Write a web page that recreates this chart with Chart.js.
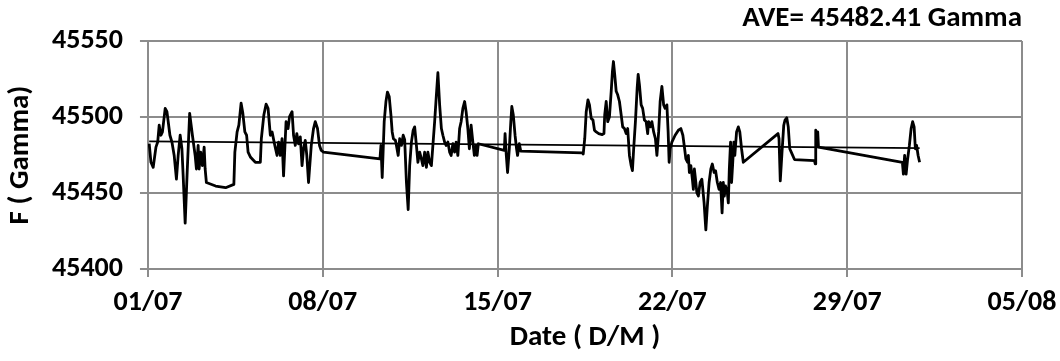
<!DOCTYPE html>
<html>
<head>
<meta charset="utf-8">
<script src="https://cdn.jsdelivr.net/npm/chart.js@4/dist/chart.umd.min.js"></script>
<style>
  html, body { margin: 0; padding: 0; background: #fff; }
  #wrap { width: 1060px; height: 361px; }
</style>
</head>
<body>
<div id="wrap"><canvas id="fieldChart" width="1060" height="361"></canvas></div>
<script>
// time in days since 01/07, total field F in gamma
const days = [
  0.05, 0.12, 0.21, 0.32, 0.39, 0.45, 0.52, 0.58, 0.69, 0.76, 0.88, 0.96,
  1.05, 1.14, 1.21, 1.29, 1.36, 1.41, 1.49, 1.57, 1.67, 1.78, 1.89, 1.94,
  2.01, 2.05, 2.11, 2.18, 2.25, 2.29, 2.34, 2.71, 3.11, 3.44, 3.48, 3.57,
  3.64, 3.73, 3.80, 3.88, 3.95, 4.01, 4.11, 4.30, 4.50, 4.54, 4.64, 4.73,
  4.81, 4.90, 4.97, 5.08, 5.17, 5.23, 5.30, 5.37, 5.43, 5.53, 5.61, 5.67,
  5.77, 5.83, 5.90, 5.96, 6.03, 6.10, 6.17, 6.23, 6.30, 6.36, 6.43, 6.54,
  6.63, 6.70, 6.79, 6.87, 6.94, 7.03, 9.29, 9.33, 9.38, 9.46, 9.53, 9.59,
  9.66, 9.73, 9.78, 9.83, 9.91, 9.95, 10.02, 10.08, 10.15, 10.22, 10.28,
  10.35, 10.42, 10.48, 10.55, 10.62, 10.68, 10.75, 10.81, 10.88, 10.95,
  11.01, 11.08, 11.15, 11.21, 11.28, 11.35, 11.41, 11.48, 11.55, 11.61,
  11.68, 11.75, 11.81, 11.88, 11.94, 12.01, 12.08, 12.14, 12.21, 12.28,
  12.34, 12.41, 12.48, 12.54, 12.61, 12.68, 12.74, 12.81, 12.87, 12.94,
  13.01, 13.07, 13.14, 13.18, 13.23, 14.27, 14.30, 14.35, 14.40, 14.47,
  14.53, 14.57, 14.63, 14.70, 14.76, 14.80, 14.87, 14.93, 17.39, 17.43,
  17.49, 17.55, 17.62, 17.68, 17.75, 17.82, 17.88, 17.95, 18.05, 18.19,
  18.26, 18.29, 18.35, 18.41, 18.48, 18.55, 18.60, 18.64, 18.69, 18.75,
  18.81, 18.88, 18.95, 19.01, 19.08, 19.15, 19.21, 19.28, 19.35, 19.40,
  19.45, 19.52, 19.59, 19.63, 19.68, 19.75, 19.81, 19.88, 19.95, 20.01,
  20.05, 20.12, 20.18, 20.25, 20.32, 20.38, 20.45, 20.51, 20.58, 20.65,
  20.71, 20.78, 20.83, 20.87, 20.91, 20.98, 21.11, 21.24, 21.34, 21.42,
  21.49, 21.54, 21.61, 21.64, 21.68, 21.74, 21.80, 21.84, 21.88, 21.94,
  21.98, 22.04, 22.11, 22.18, 22.22, 22.27, 22.34, 22.40, 22.47, 22.54,
  22.60, 22.67, 22.73, 22.80, 22.87, 22.93, 22.99, 23.04, 23.08, 23.13,
  23.20, 23.24, 23.28, 23.33, 23.37, 23.41, 23.46, 23.50, 23.57, 23.64,
  23.70, 23.77, 23.84, 25.23, 25.27, 25.32, 25.39, 25.46, 25.51, 25.58,
  25.64, 25.70, 25.76, 25.89, 26.69, 26.72, 26.74, 26.78, 26.82, 26.85,
  30.21, 30.25, 30.30, 30.36, 30.42, 30.49, 30.56, 30.62, 30.68, 30.73,
  30.78, 30.84, 30.90
];
const gammaValues = [
  45482.4, 45470.2, 45466.9, 45480.2, 45483.5, 45494.6, 45488.0, 45490.2, 45505.7, 45503.5, 45488.0, 45483.5,
  45474.7, 45459.1, 45474.7, 45488.0, 45479.1, 45461.3, 45430.2, 45463.5, 45502.4, 45488.0, 45474.7, 45465.8,
  45481.3, 45465.8, 45476.9, 45468.0, 45480.2, 45465.8, 45456.9, 45454.6, 45453.5, 45455.7, 45476.9, 45490.2,
  45494.6, 45509.1, 45502.4, 45490.2, 45488.0, 45476.9, 45473.5, 45470.2, 45470.2, 45485.7, 45501.3, 45508.4,
  45505.7, 45488.0, 45490.2, 45481.3, 45474.7, 45483.5, 45474.7, 45485.7, 45461.3, 45496.9, 45492.4, 45500.2,
  45503.5, 45488.0, 45481.3, 45489.1, 45482.4, 45486.9, 45468.0, 45479.1, 45484.6, 45474.7, 45456.9, 45481.3,
  45492.4, 45496.9, 45492.4, 45481.3, 45478.0, 45476.9, 45472.4, 45481.3, 45460.2, 45496.9, 45510.2, 45516.4,
  45513.5, 45501.3, 45490.2, 45485.7, 45484.6, 45481.3, 45474.7, 45485.7, 45481.3, 45488.0, 45485.0,
  45456.9, 45439.1, 45468.0, 45483.5, 45491.3, 45493.5, 45481.3, 45470.2, 45476.9, 45472.4,
  45468.0, 45476.9, 45466.9, 45476.9, 45470.2, 45468.0, 45481.3, 45496.9, 45514.6, 45529.1,
  45508.0, 45492.4, 45488.0, 45483.5, 45481.3, 45483.5, 45476.9, 45474.7, 45482.4, 45476.9,
  45483.5, 45474.7, 45492.4, 45496.9, 45505.7, 45510.2, 45503.5, 45492.4, 45479.1, 45494.6,
  45483.5, 45474.7, 45481.3, 45474.7, 45482.4, 45478.0, 45489.1, 45474.7, 45463.5, 45479.1,
  45496.9, 45506.9, 45501.3, 45488.0, 45479.1, 45474.7, 45482.4, 45477.5, 45476.4, 45475.7,
  45485.7, 45503.5, 45511.3, 45508.0, 45499.1, 45498.0, 45491.3, 45490.2, 45489.1, 45488.4,
  45489.1, 45501.3, 45510.2, 45496.9, 45500.2, 45516.9, 45530.2, 45536.5, 45528.0, 45516.9,
  45514.6, 45510.2, 45501.3, 45493.5, 45492.4, 45489.1, 45492.4, 45474.7, 45468.0, 45464.7,
  45479.1, 45496.9, 45519.1, 45528.0, 45521.3, 45508.0, 45505.7, 45498.0, 45496.9, 45489.1,
  45496.9, 45493.5, 45496.9, 45490.2, 45485.7, 45474.7, 45490.2, 45510.2, 45520.2, 45508.0,
  45505.7, 45508.0, 45490.2, 45470.2, 45479.1, 45483.5, 45488.0, 45491.3, 45492.4, 45488.0,
  45479.1, 45472.4, 45470.2, 45474.7, 45463.5, 45468.0, 45459.1, 45452.4, 45465.8, 45456.9,
  45450.2, 45448.0, 45456.9, 45459.1, 45452.4, 45443.5, 45425.7, 45441.3, 45456.9, 45465.8,
  45469.1, 45463.5, 45464.6, 45456.9, 45452.4, 45456.9, 45436.9, 45456.9, 45448.0, 45454.6,
  45450.2, 45443.5, 45465.8, 45483.5, 45456.9, 45468.0, 45483.5, 45474.7, 45490.2, 45493.5,
  45490.2, 45479.1, 45470.2, 45489.1, 45485.7, 45458.0, 45476.9, 45494.6, 45498.0, 45499.5,
  45493.5, 45479.1, 45476.9, 45472.0, 45471.3, 45469.1, 45491.3, 45486.9, 45490.2, 45480.2,
  45470.2, 45462.4, 45474.7, 45462.4, 45472.4, 45481.3, 45492.4, 45496.9, 45493.5, 45479.1,
  45481.3, 45474.7, 45470.2
];

// linear trend through the record
const trendDays = [0.05, 30.9];
const trendValues = [45484.0, 45479.5];

const dateLabels = ['01/07', '08/07', '15/07', '22/07', '29/07', '05/08'];
const averageText = 'AVE= 45482.41 Gamma';

const fontFamily = 'Carlito, Lato, "Open Sans", sans-serif';
const gridColor = '#8c8c8c';

const seriesPoints = days.map((d, i) => ({ x: d, y: gammaValues[i] }));
const trendPoints = trendDays.map((d, i) => ({ x: d, y: trendValues[i] }));

const ctx = document.getElementById('fieldChart').getContext('2d');
const fieldChart = new Chart(ctx, {
  type: 'line',
  data: {
    datasets: [
      {
        label: 'F',
        data: seriesPoints,
        borderColor: '#000',
        borderWidth: 2.8,
        borderJoinStyle: 'round',
        pointRadius: 0,
        tension: 0,
        fill: false
      },
      {
        label: 'Trend',
        data: trendPoints,
        borderColor: '#000',
        borderWidth: 1.8,
        pointRadius: 0,
        fill: false
      }
    ]
  },
  options: {
    responsive: false,
    animation: false,
    layout: { padding: { left: 2, right: 38, top: 2, bottom: 9 } },
    plugins: {
      legend: { display: false },
      tooltip: { enabled: false },
      title: {
        display: true,
        text: averageText,
        align: 'end',
        color: '#000',
        font: { family: fontFamily, size: 29, weight: 'bold', lineHeight: 1 },
        padding: { top: 2, bottom: 8 }
      }
    },
    scales: {
      x: {
        type: 'linear',
        min: 0,
        max: 35,
        border: { color: gridColor, width: 2 },
        grid: { color: gridColor, lineWidth: 2, tickLength: 8 },
        ticks: {
          stepSize: 7,
          color: '#000',
          padding: 12,
          maxRotation: 0,
          font: { family: fontFamily, size: 28, weight: 'bold', lineHeight: 1 },
          callback: (v) => dateLabels[Math.round(v / 7)]
        },
        // let the last date label hang into the right margin
        afterFit: (scale) => { scale.paddingRight = 20; },
        title: {
          display: true,
          text: 'Date ( D/M )',
          color: '#000',
          font: { family: fontFamily, size: 29, weight: 'bold', lineHeight: 1 },
          padding: { top: -6, bottom: 0 }
        }
      },
      y: {
        min: 45400,
        max: 45550,
        border: { color: gridColor, width: 2 },
        grid: { color: gridColor, lineWidth: 2, tickLength: 8 },
        ticks: {
          stepSize: 50,
          color: '#000',
          padding: 17,
          font: { family: fontFamily, size: 28, weight: 'bold', lineHeight: 1 },
          callback: (v) => String(v)
        },
        title: {
          display: true,
          text: 'F ( Gamma)',
          color: '#000',
          font: { family: fontFamily, size: 29, weight: 'bold', lineHeight: 1 },
          padding: { top: 4, bottom: 0 }
        }
      }
    }
  }
});
</script>
</body>
</html>
